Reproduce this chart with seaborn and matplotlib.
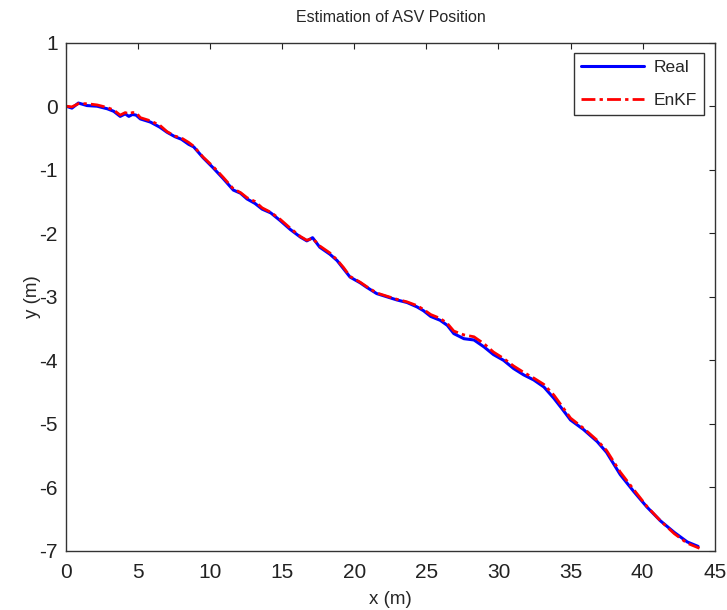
import matplotlib
matplotlib.use("Agg")
import matplotlib.pyplot as plt
import seaborn as sns
import pandas as pd

# Real trajectory (m)
real_x = [0, 0.4, 0.85, 1.45, 2.15, 2.85, 3.3, 3.75, 4.1, 4.35,
          4.6, 4.85, 5.15, 5.85, 6.5, 7.0, 7.55, 8.0, 8.5, 8.85,
          9.5, 10.2, 10.9, 11.6, 12.1, 12.55, 13.1, 13.6, 14.2, 14.85,
          15.55, 16.25, 16.7, 17.1, 17.6, 18.3, 18.8, 19.25, 19.7, 20.4,
          20.85, 21.55, 22.25, 22.95, 23.65, 24.35, 24.8, 25.3, 25.95, 26.45,
          26.9, 27.6, 28.3, 29.0, 29.65, 30.35, 31.05, 31.75, 32.45, 33.15,
          33.85, 34.4, 35.0, 35.9, 36.85, 37.5, 38.45, 39.4, 40.3, 41.25,
          42.2, 43.1, 43.85]
real_y = [0, -0.03, 0.05, 0.01, 0.0, -0.04, -0.08, -0.16, -0.12, -0.16,
          -0.13, -0.14, -0.2, -0.25, -0.33, -0.41, -0.48, -0.52, -0.6, -0.64,
          -0.81, -0.97, -1.14, -1.32, -1.37, -1.46, -1.53, -1.62, -1.68, -1.8,
          -1.94, -2.06, -2.12, -2.07, -2.22, -2.33, -2.43, -2.56, -2.69, -2.78,
          -2.85, -2.95, -3.0, -3.05, -3.09, -3.16, -3.22, -3.31, -3.37, -3.45,
          -3.58, -3.66, -3.68, -3.79, -3.91, -4.0, -4.13, -4.23, -4.31, -4.42,
          -4.6, -4.76, -4.94, -5.09, -5.28, -5.45, -5.8, -6.07, -6.31, -6.53,
          -6.71, -6.86, -6.93]

# EnKF estimate (m)
enkf_x = [0, 0.4, 0.85, 1.45, 2.15, 2.85, 3.3, 3.75, 4.1, 4.35,
          4.6, 4.85, 5.15, 5.85, 6.5, 7.0, 7.55, 8.0, 8.5, 8.85,
          9.5, 10.2, 10.9, 11.6, 12.1, 12.55, 13.1, 13.6, 14.2, 14.85,
          15.55, 16.25, 16.7, 17.1, 17.6, 18.3, 18.8, 19.25, 19.7, 20.4,
          20.85, 21.55, 22.25, 22.95, 23.65, 24.35, 24.8, 25.3, 25.95, 26.45,
          26.9, 27.6, 28.3, 29.0, 29.65, 30.35, 31.05, 31.75, 32.45, 33.15,
          33.85, 34.4, 35.0, 35.9, 36.85, 37.5, 38.45, 39.4, 40.3, 41.25,
          42.2, 43.1, 43.95]
enkf_y = [0.0, -0.01, 0.04, 0.04, 0.02, -0.02, -0.06, -0.14, -0.1, -0.12,
          -0.1, -0.1, -0.18, -0.23, -0.3, -0.4, -0.47, -0.5, -0.57, -0.63,
          -0.8, -0.95, -1.12, -1.3, -1.36, -1.44, -1.5, -1.6, -1.67, -1.78,
          -1.92, -2.05, -2.11, -2.08, -2.2, -2.31, -2.42, -2.54, -2.68, -2.77,
          -2.84, -2.94, -2.99, -3.04, -3.08, -3.14, -3.2, -3.28, -3.34, -3.42,
          -3.54, -3.6, -3.63, -3.74, -3.87, -3.97, -4.09, -4.19, -4.28, -4.38,
          -4.55, -4.72, -4.91, -5.07, -5.26, -5.42, -5.76, -6.04, -6.3, -6.53,
          -6.73, -6.88, -6.96]

x_ticks = [0, 5, 10, 15, 20, 25, 30, 35, 40, 45]
y_ticks = [1, 0, -1, -2, -3, -4, -5, -6, -7]

sns.set_style("white")
plt.rcParams['font.family'] = ['Liberation Sans', 'DejaVu Sans']
plt.rcParams['axes.unicode_minus'] = False

df_real = pd.DataFrame({'x': real_x, 'y': real_y})
df_enkf = pd.DataFrame({'x': enkf_x, 'y': enkf_y})

fig = plt.figure(figsize=(7.27, 6.10), dpi=100)
ax = fig.add_axes([0.091, 0.097, 0.892, 0.833])

sns.lineplot(data=df_real, x='x', y='y', sort=False, estimator=None,
             color='#0000ff', linewidth=2.2, label='Real', ax=ax)
sns.lineplot(data=df_enkf, x='x', y='y', sort=False, estimator=None,
             color='#ff0000', linewidth=2.0, label='EnKF', ax=ax)
# dash-dot like MATLAB '-.'
ax.lines[-1].set_dashes([5, 1.5, 1.2, 1.5])

ax.set_xlim(0, 45)
ax.set_ylim(-7, 1)
ax.set_xticks(x_ticks)
ax.set_yticks(y_ticks)
ax.tick_params(direction='in', length=4, width=0.8, top=True, right=True,
               labelsize=15, colors='#222222')
ax.tick_params(axis='x', pad=9)
ax.tick_params(axis='y', pad=6)
for s in ax.spines.values():
    s.set_color('#333333')
    s.set_linewidth(1.0)

ax.set_title("Estimation of ASV Position", fontsize=11.5, pad=15)
ax.set_xlabel("x (m)", fontsize=13.5, labelpad=6)
ax.set_ylabel("y (m)", fontsize=13.5, labelpad=-1)

leg = ax.legend(loc='upper right', fontsize=12.5, fancybox=False,
                frameon=True, borderaxespad=0.6, handlelength=3.6,
                labelspacing=1.0, handletextpad=0.6)
leg.get_frame().set_edgecolor('black')
leg.get_frame().set_linewidth(1.0)

fig.savefig("out.png", dpi=100)
